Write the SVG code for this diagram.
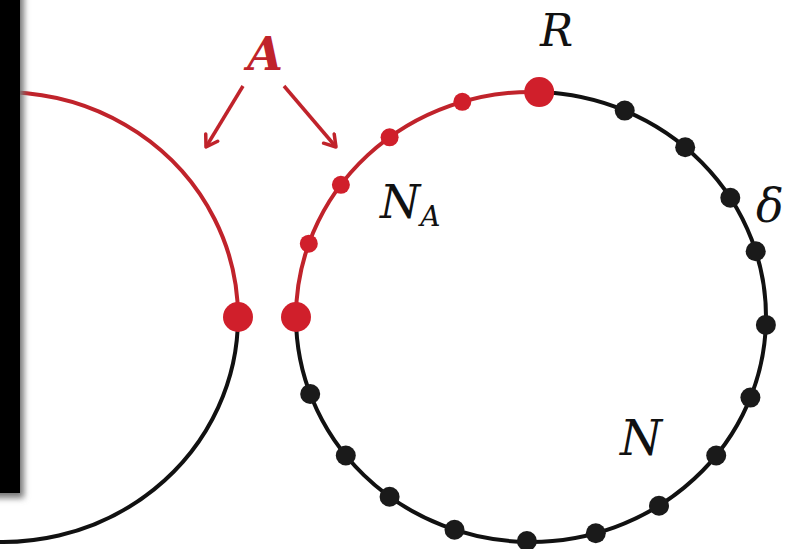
<svg xmlns="http://www.w3.org/2000/svg" width="789" height="549" viewBox="0 0 789 549">
<defs>
<style>
.red{fill:none;stroke:#c0232b;stroke-width:4}
.blk{fill:none;stroke:#111;stroke-width:4}
.rd{fill:#d01f2b}
.bd{fill:#1a1a1a}
.lbl{font-family:'DejaVu Serif','Liberation Serif',serif;font-style:italic;fill:#111}
.arr{fill:none;stroke:#c0232b;stroke-width:3.5}
</style>
<marker id="ah" markerWidth="18" markerHeight="18" refX="13" refY="9" orient="auto" markerUnits="userSpaceOnUse">
<path d="M2,2 L13,9 L2,16" fill="none" stroke="#c0232b" stroke-width="3.5" stroke-linecap="round" stroke-linejoin="round"/>
</marker>
<filter id="sh" x="-50%" y="-50%" width="200%" height="200%"><feGaussianBlur stdDeviation="3"/></filter>
</defs>
<rect width="789" height="549" fill="#fff"/>
<g id="connectors">
<path class="red" d="M-77.4,105.6 A235,225 0 0 1 238,317"/>
<path class="blk" d="M238,317 A235,225 0 0 1 -37.8,538.6"/>
<path class="red" d="M296,317 A235,225 0 0 1 539.2,92.1"/>
<path class="blk" d="M539.2,92.1 A235,225 0 1 1 296,317"/>
<line class="arr" x1="243" y1="86" x2="206" y2="147" marker-end="url(#ah)"/>
<line class="arr" x1="284" y1="86" x2="336" y2="147" marker-end="url(#ah)"/>
</g>
<g id="panel">
<rect x="-10" y="-10" width="34" height="508" fill="#777" filter="url(#sh)"/>
<rect x="-10" y="-10" width="30" height="503" fill="#000"/>
</g>
<g id="left-dot"><circle class="rd" cx="238" cy="317" r="15"/></g>
<g id="red-dots">
<circle class="rd" cx="296" cy="317" r="15"/>
<circle class="rd" cx="308.8" cy="243.7" r="9"/>
<circle class="rd" cx="340.9" cy="184.8" r="9"/>
<circle class="rd" cx="389.6" cy="137.3" r="9"/>
<circle class="rd" cx="462.3" cy="101.8" r="9"/>
<circle class="rd" cx="539.2" cy="92.1" r="15"/>
</g>
<g id="black-dots">
<circle class="bd" cx="624.7" cy="110.6" r="10"/>
<circle class="bd" cx="685.2" cy="147.2" r="10"/>
<circle class="bd" cx="730.3" cy="197.8" r="10"/>
<circle class="bd" cx="755.7" cy="251.2" r="10"/>
<circle class="bd" cx="765.9" cy="324.9" r="10"/>
<circle class="bd" cx="750.4" cy="397.6" r="10"/>
<circle class="bd" cx="716.2" cy="455.5" r="10"/>
<circle class="bd" cx="659.0" cy="505.7" r="10"/>
<circle class="bd" cx="595.8" cy="533.3" r="10"/>
<circle class="bd" cx="526.9" cy="541.0" r="10"/>
<circle class="bd" cx="454.5" cy="529.7" r="10"/>
<circle class="bd" cx="389.6" cy="496.7" r="10"/>
<circle class="bd" cx="345.8" cy="455.5" r="10"/>
<circle class="bd" cx="310.2" cy="394.0" r="10"/>
</g>
<g id="labels">
<text x="265" y="70" text-anchor="middle" font-family="'DejaVu Serif','Liberation Serif',serif" font-style="italic" font-weight="bold" font-size="46" fill="#c0232b">A</text>
<text class="lbl" x="540" y="46" font-size="44">R</text>
<text class="lbl" x="380" y="218" font-size="46">N<tspan font-size="28" dy="8">A</tspan></text>
<text class="lbl" x="756" y="222" font-size="46">δ</text>
<text class="lbl" x="620" y="455" font-size="48">N</text>
</g>
</svg>
